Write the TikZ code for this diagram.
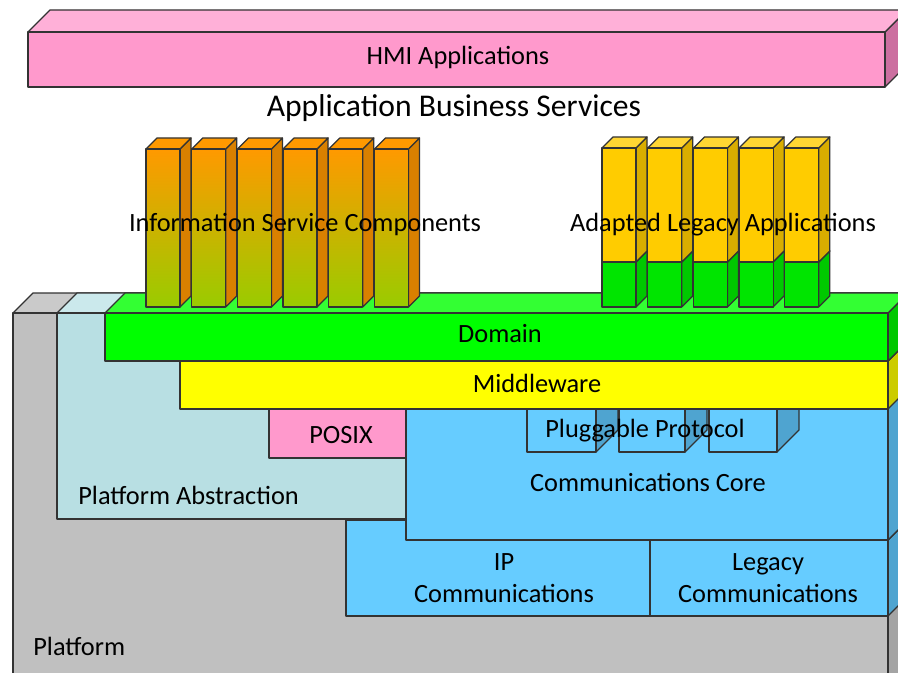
\documentclass[tikz,border=0pt]{standalone}
\usepackage{fontspec}
\setmainfont{Carlito}

% Colores de las capas
\definecolor{rosa}{HTML}{FF99CC}
\definecolor{rosaTecho}{HTML}{FFB0D8}
\definecolor{rosaLado}{HTML}{CC6FA0}
\definecolor{gris}{HTML}{C0C0C0}
\definecolor{grisTecho}{HTML}{CACACA}
\definecolor{grisLado}{HTML}{A4A4A4}
\definecolor{celeste}{HTML}{B8DFE3}
\definecolor{celesteTecho}{HTML}{CBE9EC}
\definecolor{azul}{HTML}{66CCFF}
\definecolor{azulLado}{HTML}{4FA4D0}
\definecolor{verde}{HTML}{00FF00}
\definecolor{verdeTecho}{HTML}{33FF33}
\definecolor{verdeLado}{HTML}{00C800}
\definecolor{amarillo}{HTML}{FFFF00}
\definecolor{amarilloLado}{HTML}{CCCC00}
\definecolor{naranja}{HTML}{FF9900}
\definecolor{naranjaLado}{HTML}{D98000}
\definecolor{oliva}{HTML}{99CC00}
\definecolor{oro}{HTML}{FFCC00}
\definecolor{oroTecho}{HTML}{FFD633}
\definecolor{oroLado}{HTML}{D9AD00}
\definecolor{borde}{HTML}{333333}

% Caja en 3D: (#1,#2) esquina sup. izq., (#3,#4) esquina inf. der.,
% #5 profundidad, #6 opciones del frente, #7 color del techo, #8 color del lado
\newcommand{\bloque}[8]{%
	\filldraw[linea, fill=#8] (#3,#2) -- ({#3+#5},{#2-#5}) -- ({#3+#5},{#4-#5}) -- (#3,#4) -- cycle;
	\filldraw[linea, fill=#7] (#1,#2) -- ({#1+#5},{#2-#5}) -- ({#3+#5},{#2-#5}) -- (#3,#2) -- cycle;
	\path[linea, draw, #6] (#1,#2) rectangle (#3,#4);
}

\begin{document}
\begin{tikzpicture}[
		x=0.02cm, y=-0.02cm,
		% Borde oscuro comun a todas las cajas
		linea/.style={draw=borde, line width=0.7pt, line join=round},
		% Texto de las capas
		etiqueta/.style={font=\fontsize{15}{18}\selectfont, inner sep=0pt, align=center},
		titulo/.style={font=\fontsize{18}{21}\selectfont, inner sep=0pt}
	]
	\useasboundingbox (0,0) rectangle (898,672);
	\clip (0,0) rectangle (898,672);

	% --- 1. Capas de plataforma ---
	\bloque{13}{313}{888}{700}{20}{fill=gris}{grisTecho}{grisLado}

	% IP y Legacy van detras de la abstraccion (su techo queda tapado)
	\bloque{346}{520}{650}{616}{20}{fill=azul}{azul}{azulLado}
	\bloque{650}{540}{888}{616}{20}{fill=azul}{azul}{azulLado}

	\bloque{57}{313}{888}{519}{20}{fill=celeste}{celesteTecho}{celeste}

	% --- 2. Comunicaciones ---
	\bloque{406}{400}{888}{540}{20}{fill=azul}{azul}{azulLado}

	% Cajas del protocolo enchufable (la parte de arriba queda tapada)
	\foreach \xa/\xb in {527/596, 619/685, 709/777} {
		\bloque{\xa}{409}{\xb}{452}{22}{fill=azul}{azul}{azulLado}
	}

	\bloque{269}{409}{406}{458}{0}{fill=rosa}{rosa}{rosa}

	% --- 3. Middleware y dominio ---
	\bloque{180}{361}{888}{409}{20}{fill=amarillo}{amarillo}{amarilloLado}
	\bloque{105}{313}{888}{361}{20}{fill=verde}{verdeTecho}{verdeLado}

	% --- 4. Columnas de servicios ---
	\foreach \i in {0,...,5} {
		\bloque{146+45.7*\i}{149}{180+45.7*\i}{307}{11}{top color=naranja, bottom color=oliva}{naranja}{naranjaLado}
	}

	% Primero la parte verde, luego la amarilla encima
	\foreach \i in {0,...,4} {
		\bloque{602+45.7*\i}{262}{636+45.7*\i}{307}{11}{fill=verde!90!black}{verdeTecho}{verdeLado}
		\bloque{602+45.7*\i}{148}{636+45.7*\i}{262}{11}{fill=oro}{oroTecho}{oroLado}
	}

	% --- 5. Aplicaciones HMI ---
	\bloque{28}{32}{885}{87}{22}{fill=rosa}{rosaTecho}{rosaLado}

	% --- 6. Textos ---
	\node[etiqueta] (hmi) at (458, 57) {HMI Applications};
	\node[titulo] (abs) at (454, 108) {Application Business Services};
	\node[etiqueta] (isc) at (305, 225) {Information Service Components};
	\node[etiqueta] (ala) at (723, 225) {Adapted Legacy Applications};
	\node[etiqueta] (dom) at (500, 334) {Domain};
	\node[etiqueta] (mid) at (537, 383) {Middleware};
	\node[etiqueta] (posix) at (341, 435) {POSIX};
	\node[etiqueta] (plug) at (645, 431) {Pluggable Protocol};
	\node[etiqueta] (core) at (648, 482) {Communications Core};
	\node[etiqueta, anchor=west] (pabs) at (78, 495) {Platform Abstraction};
	\node[etiqueta] (ip) at (504, 578) {IP\\Communications};
	\node[etiqueta] (leg) at (768, 578) {Legacy\\Communications};
	\node[etiqueta, anchor=west] (plat) at (33, 646) {Platform};

\end{tikzpicture}
\end{document}
